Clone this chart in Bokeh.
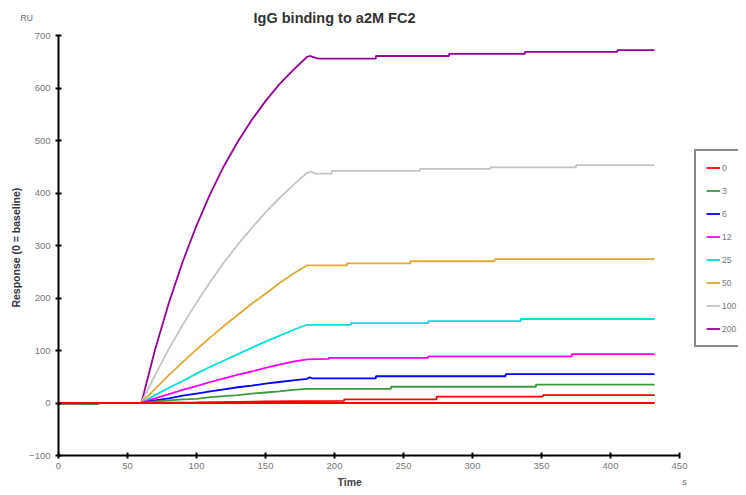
from bokeh.plotting import figure
from bokeh.models import Range1d, FixedTicker, Label, Legend, LegendItem, LinearAxis
from bokeh.embed import file_html
from bokeh.resources import INLINE

# ---- data ----
concs = ["0", "3", "6", "12", "25", "50", "100", "200"]
colors = ["#FF0000", "#3C9A3C", "#0000FF", "#FF00FF", "#00DDDD", "#E0A835", "#C4C4C4", "#990099"]

t_base = [0, 28, 30, 60]
base_dip = [-1, -2, 0, 0]
base_flat = [0, 0, 0, 0]

t_assoc = [60, 62, 70, 80, 90, 100, 110, 120, 130, 140, 150, 160, 170, 180]
assoc = {
    "200": [0, 20, 102, 191, 269, 338, 399, 452, 498, 539, 575, 607, 634, 659],
    "100": [0, 11, 53, 103, 149, 191, 231, 268, 302, 333, 363, 390, 415, 438],
    "50":  [0, 6, 27, 53, 78, 102, 125, 147, 168, 189, 208, 228, 246, 262],
    "25":  [0, 3, 15, 29, 42, 56, 69, 81, 93, 105, 117, 128, 139, 149],
    "12":  [0, 2, 9, 17, 25, 32, 40, 47, 54, 60, 67, 73, 79, 83],
    "6":   [0, 1, 5, 9, 14, 18, 22, 26, 30, 33, 37, 40, 43, 46],
    "3":   [0, 1, 3, 5, 7, 8, 11, 13, 15, 18, 20, 22, 25, 27],
    "0":   [0, 0, 0, 0, 0, 0, 0, 0, 0, 0, 0, 0, 0, 0],
}

diss_t = {
    "200": [182, 188, 230, 230, 283, 283, 338, 338, 405, 405, 432],
    "100": [183, 186, 198, 198, 262, 262, 313, 313, 375, 375, 432],
    "50":  [209, 209, 255, 255, 316, 316, 432],
    "25":  [212, 212, 268, 268, 335, 335, 432],
    "12":  [196, 196, 268, 268, 372, 372, 432],
    "6":   [182, 184, 230, 230, 324, 324, 432],
    "3":   [241, 241, 346, 346, 432],
    "0":   [432],
}
diss_v = {
    "200": [661, 656, 656, 661, 661, 665, 665, 669, 669, 672, 672],
    "100": [441, 437, 437, 442, 442, 446, 446, 449, 449, 453, 453],
    "50":  [262, 266, 266, 270, 270, 274, 274],
    "25":  [149, 152, 152, 156, 156, 160, 160],
    "12":  [84, 86, 86, 89, 89, 93, 93],
    "6":   [49, 47, 47, 51, 51, 55, 55],
    "3":   [27, 31, 31, 35, 35],
    "0":   [0],
}
dip_series = ["3", "12", "100"]

# second blank (0 nM) cycle
red2_t = [60, 100, 150, 207, 207, 274, 274, 351, 351, 432]
red2_v = [0, 1, 3, 4, 7, 7, 12, 12, 15, 15]

x_ticks = [0, 50, 100, 150, 200, 250, 300, 350, 400, 450]
y_ticks = [-100, 0, 100, 200, 300, 400, 500, 600, 700]
x_bounds = (0, 450)
y_bounds = (-100, 700)

FONT = "Liberation Sans"

W, H = 738, 487
# frame spans the whole canvas; the axes sit at fixed data positions
p = figure(width=W, height=H, output_backend="svg", toolbar_location=None,
           x_range=Range1d(-42.03, 492.75), y_range=Range1d(-160.95, 766.67),
           x_axis_location=None, y_axis_location=None,
           min_border=0)
p.title.visible = False
p.outline_line_color = None
p.background_fill_color = "white"
p.border_fill_color = "white"
for g in p.grid:
    g.visible = False

xaxis = LinearAxis(fixed_location=y_bounds[0], bounds=x_bounds)
yaxis = LinearAxis(fixed_location=x_bounds[0], bounds=y_bounds)
for ax, ticks in ((xaxis, x_ticks), (yaxis, y_ticks)):
    ax.ticker = FixedTicker(ticks=ticks, minor_ticks=[])
    ax.axis_line_width = 2
    ax.axis_line_color = "black"
    ax.major_tick_in = 3
    ax.major_tick_out = 3
    ax.major_tick_line_width = 2
    ax.minor_tick_line_color = None
    ax.major_label_text_font = FONT
    ax.major_label_text_font_size = "9.5px"
    ax.major_label_text_color = "#777777"
xaxis.major_label_standoff = 4
yaxis.major_label_standoff = 5
p.add_layout(xaxis, "below")
p.add_layout(yaxis, "left")

renderers = {}
order = ["200", "100", "50", "25", "12", "6", "3", "0"]
for c in order:
    col = colors[concs.index(c)]
    bv = base_dip if c in dip_series else base_flat
    xs = t_base + t_assoc + diss_t[c]
    ys = bv + assoc[c] + diss_v[c]
    renderers[c] = p.line(xs, ys, line_color=col, line_width=1.8)
p.line(red2_t, red2_v, line_color="#FF0000", line_width=1.8)
p.line([0, 60], [0, 0], line_color="#FF0000", line_width=1.8)

items = [LegendItem(label=c, renderers=[renderers[c]]) for c in concs]
legend = Legend(items=items, location=(694, 140))
legend.border_line_color = "#111111"
legend.border_line_width = 2
legend.background_fill_alpha = 1
legend.padding = 10
legend.spacing = 10
legend.glyph_width = 14
legend.glyph_height = 13
legend.label_height = 13
legend.label_standoff = 2
legend.label_text_font = FONT
legend.label_text_font_size = "8.5px"
legend.label_text_color = "#777777"
legend.margin = 0
p.add_layout(legend, "center")

p.add_layout(Label(x=200, y=734, text="IgG binding to a2M FC2", text_font=FONT,
                   text_font_size="14.5px", text_font_style="bold", text_color="#333333",
                   text_align="center", text_baseline="middle"))
p.add_layout(Label(x=-23, y=734, text="RU", text_font=FONT, text_font_size="8.5px",
                   text_color="#666677", text_align="center", text_baseline="middle"))
p.add_layout(Label(x=-31, y=296, text="Response (0 = baseline)", text_font=FONT,
                   text_font_size="10.5px", text_font_style="bold", text_color="#333344",
                   angle=1.5708, text_align="center", text_baseline="middle"))
p.add_layout(Label(x=211, y=-150, text="Time", text_font=FONT, text_font_size="10.5px",
                   text_font_style="bold", text_color="#444444",
                   text_align="center", text_baseline="middle"))
p.add_layout(Label(x=453.6, y=-150, text="s", text_font=FONT, text_font_size="9px",
                   text_color="#666666", text_align="center", text_baseline="middle"))

open("out.html", "w").write(file_html(p, INLINE))
